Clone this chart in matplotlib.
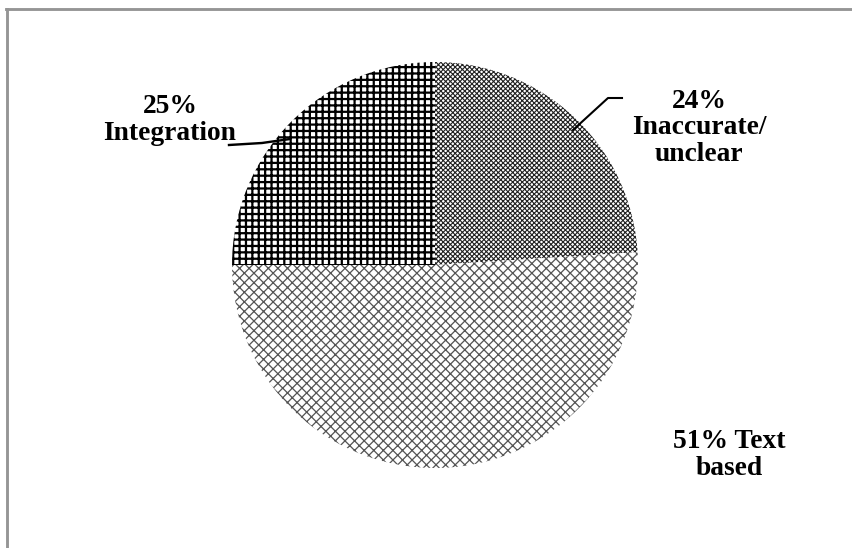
import matplotlib.pyplot as plt
from matplotlib.lines import Line2D

# data
labels = ['24%\nInaccurate/\nunclear', '51% Text\nbased', '25%\nIntegration']
shares = [24, 51, 25]
hatches = ['xxxxxxxx', 'xxxx', '+++']
hatch_colors = ['#222222', '#555555', '#000000']
hatch_widths = [0.7, 0.8, 1.4]

DPI = 115
W, H = 852, 548
fig = plt.figure(figsize=(W / DPI, H / DPI), dpi=DPI)
fig.patch.set_facecolor('white')
ax = fig.add_axes([0, 0, 1, 1])

def Y(y):
    # image row -> data y
    return H - y

wedges, _ = ax.pie(shares, startangle=90, counterclock=False,
                   center=(435, Y(265)), radius=203, frame=True,
                   wedgeprops=dict(linewidth=0))
for w, h, c, lw in zip(wedges, hatches, hatch_colors, hatch_widths):
    w.set_facecolor('white')
    w.set_edgecolor(c)
    w.set_hatch(h)
    if hasattr(w, 'set_hatch_linewidth'):
        w.set_hatch_linewidth(lw)
ax.set_xlim(0, W)
ax.set_ylim(0, H)
ax.set_aspect('auto')
ax.axis('off')

font = dict(family='Liberation Serif', fontweight='bold', fontsize=17.2,
            ha='center', va='center', linespacing=1.1)
ax.text(699, Y(128), labels[0], **font)
ax.text(729, Y(455), labels[1], **font)
ax.text(170, Y(120), labels[2], **font)

# leader lines
ax.plot([573, 608, 622], [Y(130), Y(98), Y(98)], color='black', lw=1.3)
ax.plot([229, 262, 290], [Y(145), Y(143), Y(139)], color='black', lw=1.5)

# chart border (top & left visible)
fig.add_artist(Line2D([7 / W, 7 / W], [0, 1 - 9 / H], color='#959595', lw=1.8))
fig.add_artist(Line2D([6 / W, 1], [1 - 9 / H, 1 - 9 / H], color='#959595', lw=1.8))

fig.savefig('out.png', dpi=DPI)
